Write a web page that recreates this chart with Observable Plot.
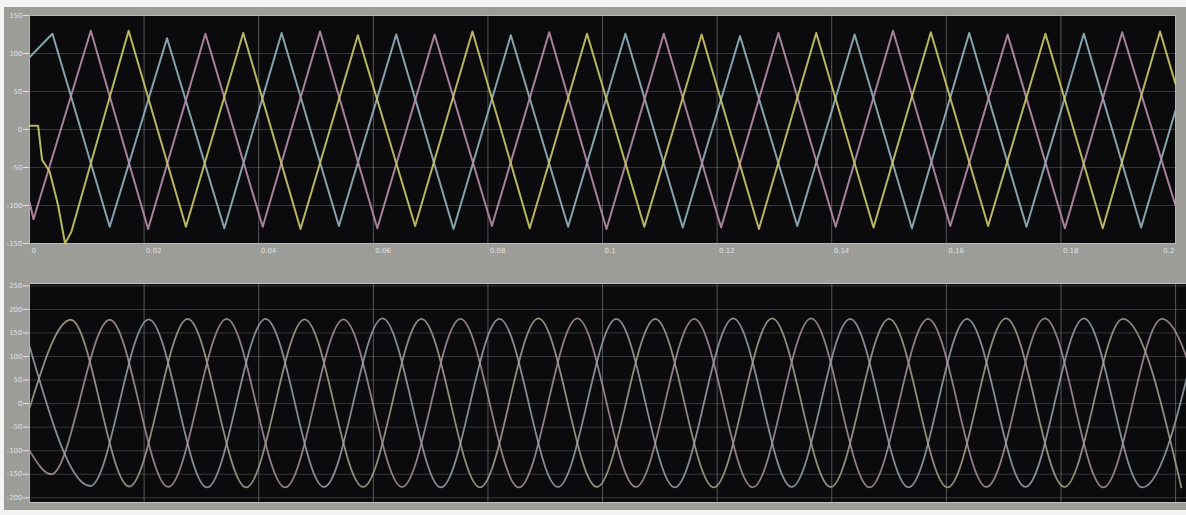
<!DOCTYPE html>
<html><head><meta charset="utf-8">
<script src="https://cdn.jsdelivr.net/npm/d3@7"></script>
<script src="https://cdn.jsdelivr.net/npm/@observablehq/plot@0.6"></script>
<style>
html,body{margin:0;padding:0;background:#f3f3f3;width:1186px;height:515px;overflow:hidden;font-family:"DejaVu Sans",sans-serif}
#wrap{position:absolute;left:4px;top:7px;width:1182px;height:503px;background:#9c9c99}
#topPanel{position:absolute;left:0;top:0}
#botPanel{position:absolute;left:0;top:270px}
</style></head><body>
<div id="wrap"><div id="topPanel"></div><div id="botPanel"></div></div>
<script>
// ---- tick labels ----
const xTicks = [0, 0.02, 0.04, 0.06, 0.08, 0.1, 0.12, 0.14, 0.16, 0.18, 0.2];
const yTicksTop = [150, 100, 50, 0, -50, -100, -150];
const yTicksBot = [250, 200, 150, 100, 50, 0, -50, -100, -150, -200];

// ---- top panel: distorted three-phase waveform (vertices) ----
const topTimesA = [0, 0.004, 0.014, 0.024, 0.034, 0.044, 0.054, 0.064, 0.074, 0.084, 0.094, 0.104, 0.114, 0.124, 0.134, 0.144, 0.154, 0.164, 0.174, 0.184, 0.194, 0.2];
const topValsA  = [95, 126, -128, 120, -130, 127, -127, 125, -131, 124, -128, 126, -129, 123, -127, 125, -130, 127, -128, 126, -129, 25];
const topTimesB = [0, 0.0007, 0.0107, 0.0207, 0.0307, 0.0407, 0.0507, 0.0607, 0.0707, 0.0807, 0.0907, 0.1007, 0.1107, 0.1207, 0.1307, 0.1407, 0.1507, 0.1607, 0.1707, 0.1807, 0.1907, 0.2];
const topValsB  = [-95, -118, 130, -131, 126, -128, 129, -130, 125, -127, 128, -131, 126, -129, 127, -128, 130, -127, 125, -130, 128, -100];
const topTimesC = [0, 0.0015, 0.0022, 0.0035, 0.005, 0.0062, 0.0073, 0.0173, 0.0273, 0.0373, 0.0473, 0.0573, 0.0673, 0.0773, 0.0873, 0.0973, 0.1073, 0.1173, 0.1273, 0.1373, 0.1473, 0.1573, 0.1673, 0.1773, 0.1873, 0.1973, 0.2];
const topValsC  = [5, 5, -40, -55, -100, -150, -135, 130, -128, 127, -131, 124, -127, 129, -130, 126, -128, 125, -131, 127, -129, 128, -127, 126, -130, 129, 60];

// ---- bottom panel: three-phase sinusoids (extremes) ----
const botTimes1 = [0, 0.0072, 0.0174, 0.0276, 0.0378, 0.0480, 0.0582, 0.0684, 0.0786, 0.0888, 0.0990, 0.1092, 0.1194, 0.1296, 0.1398, 0.1500, 0.1602, 0.1704, 0.1806, 0.1908, 0.2010];
const botVals1  = [-10, 178, -176, 180, -178, 179, -177, 180, -178, 181, -177, 180, -178, 181, -177, 180, -178, 181, -177, 180, -178];
const botTimes2 = [0, 0.0038, 0.0140, 0.0242, 0.0344, 0.0446, 0.0548, 0.0650, 0.0752, 0.0854, 0.0956, 0.1058, 0.1160, 0.1262, 0.1364, 0.1466, 0.1568, 0.1670, 0.1772, 0.1874, 0.1976, 0.2078];
const botVals2  = [-100, -150, 178, -177, 180, -178, 179, -177, 180, -178, 181, -177, 180, -178, 181, -178, 180, -177, 181, -178, 180, -177];
const botTimes3 = [0, 0.0106, 0.0208, 0.0310, 0.0412, 0.0514, 0.0616, 0.0718, 0.0820, 0.0922, 0.1024, 0.1126, 0.1228, 0.1330, 0.1432, 0.1534, 0.1636, 0.1738, 0.1840, 0.1942, 0.2044];
const botVals3  = [122, -175, 179, -178, 180, -177, 181, -178, 180, -177, 180, -178, 181, -177, 180, -178, 180, -177, 181, -178, 180];

const rows = (ts, vs) => ts.map((t, i) => ({t, v: vs[i]}));

const axisStyle = {color: "#e2e2e2", background: "transparent", fontFamily: "DejaVu Sans, sans-serif"};

const topPlot = Plot.plot({
  width: 1182, height: 270,
  marginLeft: 25, marginRight: 11, marginTop: 8, marginBottom: 34,
  style: axisStyle,
  x: {domain: [0, 0.2], label: null},
  y: {domain: [-150, 150], label: null},
  marks: [
    Plot.frame({fill: "#0b0b0e", stroke: "#c4c4c4"}),
    Plot.gridY(yTicksTop, {stroke: "#9a9a9a", strokeOpacity: 0.3}),
    Plot.gridX(xTicks, {stroke: "#a0a0a0", strokeOpacity: 0.5}),
    Plot.axisY(yTicksTop, {tickSize: 6, tickPadding: 1, fontSize: 7, label: null, tickFormat: d => String(d)}),
    Plot.axisX(xTicks.slice(0, -1), {tickSize: 0, tickPadding: 5, fontSize: 7, label: null, textAnchor: "start", dx: 2, tickFormat: d => String(d)}),
    Plot.axisX(xTicks.slice(-1), {tickSize: 0, tickPadding: 5, fontSize: 7, label: null, textAnchor: "end", dx: -1, tickFormat: d => String(d)}),
    Plot.line(rows(topTimesA, topValsA), {x: "t", y: "v", stroke: "#93b4bf", strokeWidth: 2, strokeOpacity: 0.9, curve: "linear"}),
    Plot.line(rows(topTimesB, topValsB), {x: "t", y: "v", stroke: "#b88ea9", strokeWidth: 2, strokeOpacity: 0.9, curve: "linear"}),
    Plot.line(rows(topTimesC, topValsC), {x: "t", y: "v", stroke: "#cbc96a", strokeWidth: 2, strokeOpacity: 0.9, curve: "linear"})
  ]
});
document.getElementById("topPanel").append(topPlot);

const botPlot = Plot.plot({
  width: 1182, height: 233,
  marginLeft: 25, marginRight: 0, marginTop: 6, marginBottom: 8,
  style: axisStyle,
  x: {domain: [0, 0.2019], axis: null, label: null},
  y: {domain: [-210, 255], label: null},
  clip: true,
  marks: [
    Plot.frame({fill: "#0b0b0e", stroke: "#c4c4c4"}),
    Plot.gridY(yTicksBot, {stroke: "#9a9a9a", strokeOpacity: 0.3}),
    Plot.gridX(xTicks, {stroke: "#a0a0a0", strokeOpacity: 0.5}),
    Plot.axisY(yTicksBot, {tickSize: 6, tickPadding: 1, fontSize: 7, label: null, tickFormat: d => String(d)}),
    Plot.line(rows(botTimes1, botVals1), {x: "t", y: "v", stroke: "#a9a58e", strokeWidth: 1.8, strokeOpacity: 0.85, curve: "monotone-x"}),
    Plot.line(rows(botTimes2, botVals2), {x: "t", y: "v", stroke: "#a8949c", strokeWidth: 1.8, strokeOpacity: 0.85, curve: "monotone-x"}),
    Plot.line(rows(botTimes3, botVals3), {x: "t", y: "v", stroke: "#9ca4a8", strokeWidth: 1.8, strokeOpacity: 0.85, curve: "monotone-x"})
  ]
});
document.getElementById("botPanel").append(botPlot);
</script>
</body></html>
